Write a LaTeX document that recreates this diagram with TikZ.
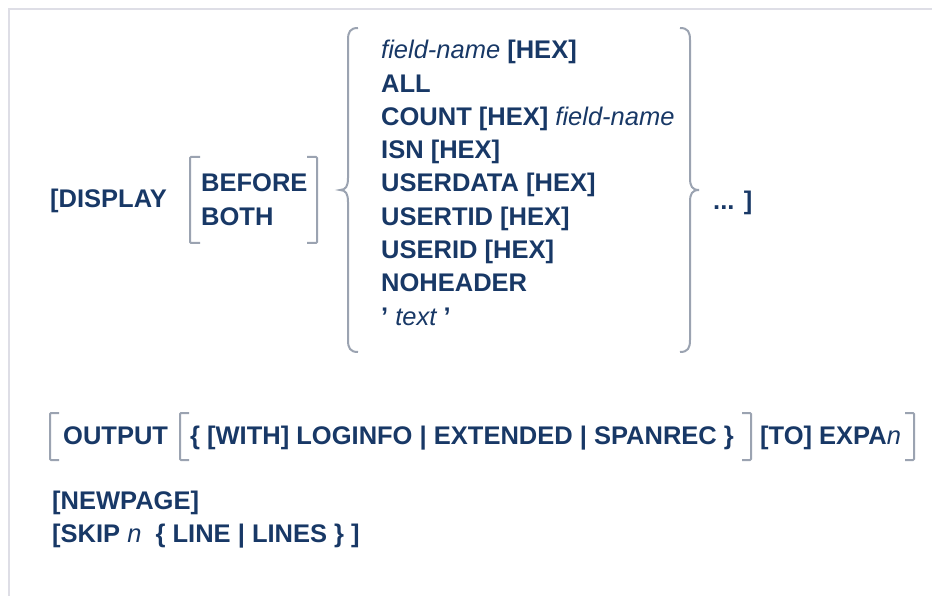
\documentclass[tikz,border=0pt]{standalone}
\usepackage{fontspec}
\setmainfont{Liberation Sans}
\definecolor{txt}{RGB}{24,56,102}
\definecolor{brkc}{RGB}{155,163,177}
\definecolor{frm}{RGB}{222,222,230}
\newcommand\varit[1]{{\normalfont\itshape #1}}
\newcommand\sq{{\char"0027}}
\begin{document}
\begin{tikzpicture}[x=1pt,y=-1pt,
  lbl/.style={anchor=base west,inner sep=0pt,text=txt,font=\fontsize{25.5}{30}\selectfont\bfseries},
  sqbr/.style={draw=brkc,line width=2pt,rounded corners=1pt},
  curly/.style={draw=brkc,line width=2pt},
  ]
\useasboundingbox (0,0) rectangle (932,596);
\draw[frm, line width=1.8pt] (9,596) -- (9,9) -- (932,9);

% first block
\node[lbl] (disp) at (50,208) {[DISPLAY};
\node[lbl] (before) at (201,192) {BEFORE};
\node[lbl] (both) at (201,226) {BOTH};
\draw[sqbr] (200,157) -- (190,157) -- (190,243) -- (200,243);
\draw[sqbr] (307,157) -- (317,157) -- (317,243) -- (307,243);

\draw[curly] (358,28) .. controls (350,28) and (348,32) .. (348,40) -- (348,178)
  .. controls (348,186) and (346,190) .. (340,190)
  .. controls (346,190) and (348,194) .. (348,202) -- (348,340)
  .. controls (348,348) and (350,352) .. (358,352);
\draw[curly] (680,28) .. controls (688,28) and (690,32) .. (690,40) -- (690,178)
  .. controls (690,186) and (692,190) .. (699,190)
  .. controls (692,190) and (690,194) .. (690,202) -- (690,340)
  .. controls (690,348) and (688,352) .. (680,352);

\node[lbl] (l1) at (381,59) {\varit{field-name} [HEX]};
\node[lbl] (l2) at (381,92.25) {ALL};
\node[lbl] (l3) at (381,125.5) {COUNT [HEX] \varit{field-name}};
\node[lbl] (l4) at (381,158.75) {ISN [HEX]};
\node[lbl] (l5) at (381,192) {USERDATA [HEX]};
\node[lbl] (l6) at (381,225.25) {USERTID [HEX]};
\node[lbl] (l7) at (381,258.5) {USERID [HEX]};
\node[lbl] (l8) at (381,291.75) {NOHEADER};
\node[lbl] (l9) at (381,325) {\sq{} \varit{text} \sq};
\node[lbl] (dots) at (713,210) {... ]};

% output line
\draw[sqbr] (59,413) -- (50,413) -- (50,460) -- (59,460);
\node[lbl] (out) at (63,444) {OUTPUT};
\draw[sqbr] (189,413) -- (180,413) -- (180,460) -- (189,460);
\node[lbl] (opts) at (190,444) {\{ [WITH] LOGINFO | EXTENDED | SPANREC \}};
\draw[sqbr] (742,413) -- (751,413) -- (751,460) -- (742,460);
\node[lbl] (toexpa) at (760,444) {[TO] EXPA\varit{n}};
\draw[sqbr] (905,413) -- (914,413) -- (914,460) -- (905,460);

\node[lbl] (newpage) at (52,509) {[NEWPAGE]};
\node[lbl] (skip) at (52,542) {[SKIP \varit{n}\ \ \{ LINE | LINES \} ]};
\end{tikzpicture}
\end{document}
